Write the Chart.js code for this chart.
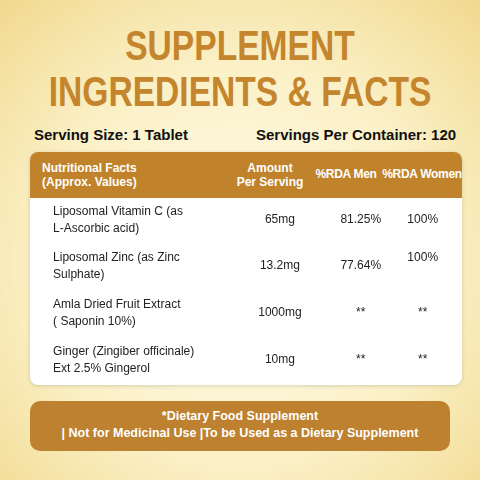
<!DOCTYPE html>
<html><head><meta charset="utf-8">
<script src="https://cdn.jsdelivr.net/npm/chart.js@4"></script>
<style>
body{margin:0;width:480px;height:480px;overflow:hidden;font-family:"Liberation Sans",Arial,sans-serif;
background:radial-gradient(circle at 50% 55%,#fffbea 0%,#fbf1c8 55%,#f1d98e 100%);position:relative}
.t{position:absolute;left:0;width:480px;text-align:center;color:#c4852c;font-weight:bold;font-size:42px;transform:scaleX(0.8);transform-origin:240px 0}
.srv{position:absolute;top:126px;font-weight:bold;font-size:15px;color:#111}
.box{position:absolute;left:30px;top:152px;width:432px;height:233px;background:#fff;border-radius:8px;overflow:hidden;box-shadow:0 1px 4px rgba(0,0,0,.15)}
.hd{position:absolute;left:0;top:0;width:432px;height:46px;background:#c0832b;color:#fff;font-weight:bold;font-size:12px;white-space:nowrap}
.hd div{position:absolute;line-height:14px}
.ft{position:absolute;left:30px;top:401px;width:420px;height:50px;background:#bd8130;border-radius:10px;color:#fff;font-weight:bold;font-size:12.5px;text-align:center;line-height:17px;padding-top:7px;box-sizing:border-box}
canvas{position:absolute;left:0;top:0}
</style></head><body>
<div class="t" style="top:22px">SUPPLEMENT</div>
<div class="t" style="top:68px">INGREDIENTS &amp; FACTS</div>
<div class="srv" style="left:34px">Serving Size: 1 Tablet</div>
<div class="srv" style="left:256px">Servings Per Container: 120</div>
<div class="box">
 <div class="hd">
  <div style="left:12px;top:9px">Nutritional Facts<br>(Approx. Values)</div>
  <div style="left:195px;top:9px;width:90px;text-align:center">Amount<br>Per Serving</div>
  <div style="left:282px;top:15px;width:68px;text-align:center;letter-spacing:-0.3px">%RDA Men</div>
  <div style="left:352px;top:15px;width:80px;text-align:center;letter-spacing:-0.3px">%RDA Women</div>
 </div>
 <div style="position:absolute;left:0;top:46px;width:420px;height:187px"><canvas id="c"></canvas></div>
</div>
<div class="ft">*Dietary Food Supplement<br>| Not for Medicinal Use |To be Used as a Dietary Supplement</div>
<script>
const ingredients = [
  ["Liposomal Vitamin C (as", "L-Ascorbic acid)"],
  ["Liposomal Zinc (as Zinc", "Sulphate)"],
  ["Amla Dried Fruit Extract", "( Saponin 10%)"],
  ["Ginger (Zingiber officinale)", "Ext 2.5% Gingerol"]
];
const amounts = ["65mg", "13.2mg", "1000mg", "10mg"];
const rdaMen = ["81.25%", "77.64%", "**", "**"];
const rdaWomen = ["100%", "100%", "**", "**"];
const columnX = [0.22, 2.38, 3.15, 3.74]; // in x-scale units 0..4

const tablePlugin = {
  id: 'tableText',
  afterDraw(chart) {
    const ctx = chart.ctx, x = chart.scales.x, y = chart.scales.y;
    ctx.save();
    ctx.fillStyle = '#222';
    ctx.font = '12px "Liberation Sans", Arial, sans-serif';
    ctx.textBaseline = 'middle';
    ingredients.forEach((lines, i) => {
      const cy = y.getPixelForValue(i) - 2;
      ctx.textAlign = 'left';
      ctx.fillText(lines[0], x.getPixelForValue(columnX[0]), cy - 8);
      ctx.fillText(lines[1], x.getPixelForValue(columnX[0]), cy + 9);
      ctx.textAlign = 'center';
      ctx.fillText(amounts[i], x.getPixelForValue(columnX[1]), cy);
      ctx.fillText(rdaMen[i], x.getPixelForValue(columnX[2]), cy);
      ctx.fillText(rdaWomen[i], x.getPixelForValue(columnX[3]), cy - (i === 1 ? 8 : 0));
    });
    ctx.restore();
  }
};

new Chart(document.getElementById('c'), {
  type: 'bar',
  data: { labels: ingredients.map(r => r.join(' ')), datasets: [{ data: [], backgroundColor: 'transparent' }] },
  options: {
    indexAxis: 'y', responsive: true, maintainAspectRatio: false, animation: false,
    layout: { padding: 0 },
    plugins: { legend: { display: false }, tooltip: { enabled: false } },
    scales: {
      x: { type: 'linear', min: 0, max: 4, display: false },
      y: { type: 'category', display: false }
    }
  },
  plugins: [tablePlugin]
});
</script>
</body></html>
